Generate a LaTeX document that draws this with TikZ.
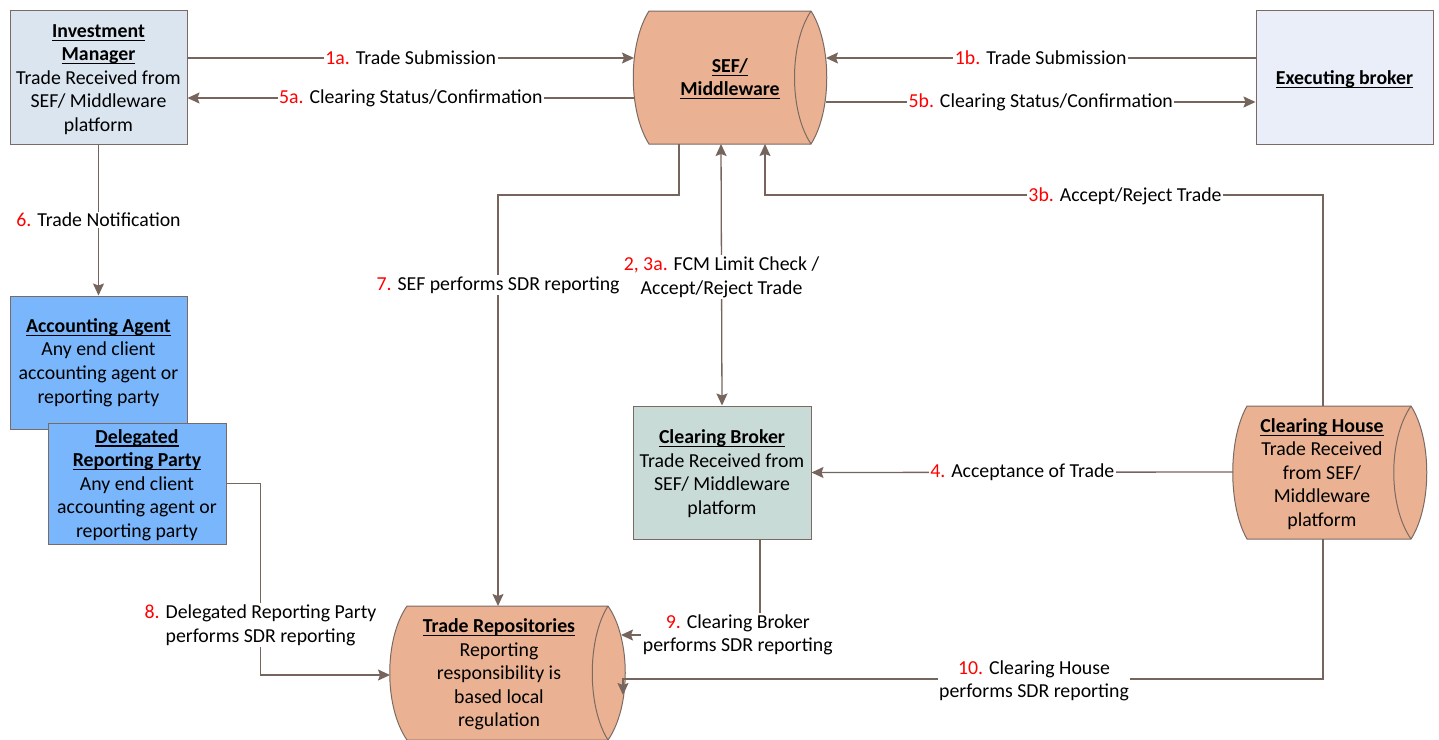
\documentclass[tikz,border=0pt]{standalone}
\usepackage{fontspec}
\setmainfont{Carlito}
\usetikzlibrary{arrows.meta}
\definecolor{edge}{HTML}{7A6A63}
\definecolor{conncol}{HTML}{76655D}
\definecolor{salmon}{HTML}{EAB292}
\definecolor{imfill}{HTML}{DBE5F0}
\definecolor{exfill}{HTML}{E9EEF8}
\definecolor{aafill}{HTML}{7AB6FB}
\definecolor{cbfill}{HTML}{C9DBD6}
\definecolor{numred}{HTML}{FF0000}
\newsavebox{\ttlbox}
\newcommand{\ttl}[1]{\sbox{\ttlbox}{\textbf{#1}}\rlap{\rule[-3.5pt]{\wd\ttlbox}{1.1pt}}\usebox{\ttlbox}}
\newcommand{\nr}[1]{\textcolor{numred}{#1}}
\begin{document}
\begin{tikzpicture}[x=1pt,y=-1pt,
  font=\fontsize{19.8}{23.6}\selectfont,
  box/.style={draw=edge, line width=1pt, align=center, inner sep=0pt},
  shp/.style={draw=edge, line width=1pt, fill=salmon},
  conn/.style={draw=conncol, line width=1.3pt, -{Stealth[length=12pt,width=11pt,inset=2pt]}},
  conn2/.style={draw=conncol, line width=1.3pt, {Stealth[length=12pt,width=11pt,inset=2pt]}-{Stealth[length=12pt,width=11pt,inset=2pt]}},
  lbl/.style={fill=white, inner sep=1.5pt, align=center, text=black}
]
\useasboundingbox (0,0) rectangle (1439,739);

% rectangular boxes
\node[box, fill=imfill, minimum width=177pt, minimum height=134pt] (im) at (98.5,77) {};
\node[align=center] (imt) at ([yshift=-2.5pt]im.center)
  {\ttl{Investment}\\\ttl{Manager}\\Trade Received from\\SEF/ Middleware\\platform};
\node[box, fill=exfill, minimum width=177pt, minimum height=134pt] (exb) at (1344.5,77) {};
\node[align=center] (exbt) at ([yshift=-2.5pt]exb.center) {\ttl{Executing broker}};
\node[box, fill=aafill, minimum width=177pt, minimum height=133pt] (aa) at (98.5,362.5)
  {\ttl{Accounting Agent}\\Any end client\\accounting agent or\\reporting party};
\node[box, fill=aafill, minimum width=178pt, minimum height=121pt] (drp) at (137,483.5) {};
\node[align=center] (drpt) at ([yshift=-1.5pt]drp.center)
  {\ttl{Delegated}\\\ttl{Reporting Party}\\Any end client\\accounting agent or\\reporting party};
\node[box, fill=cbfill, minimum width=178pt, minimum height=133pt] (cb) at (722,472.5) {};
\node[align=center] (cbt) at ([yshift=-1pt]cb.center)
  {\ttl{Clearing Broker}\\Trade Received from\\SEF/ Middleware\\platform};

% SEF / Middleware cylinder
\path[shp] (649,11) -- (811,11) .. controls (832,44) and (832,111) .. (811,144)
  -- (649,144) .. controls (628,111) and (628,44) .. (649,11) -- cycle;
\draw[edge, line width=1pt] (811,11) .. controls (789,44) and (789,111) .. (811,144);
\node[align=center] (sef) at (730,79) {\ttl{SEF/}\\\ttl{Middleware}};

% Clearing House cylinder
\path[shp] (1247,406) -- (1411,406) .. controls (1432,439) and (1432,506) .. (1411,539)
  -- (1247,539) .. controls (1228,506) and (1228,439) .. (1247,406) -- cycle;
\draw[edge, line width=1pt] (1411,406) .. controls (1388,439) and (1388,506) .. (1411,539);
\node[align=center] (ch) at (1322,474) {\ttl{Clearing House}\\Trade Received\\from SEF/\\Middleware\\platform};

% Trade Repositories cylinder
\path[shp] (407,606) -- (608,606) .. controls (631,639) and (631,707) .. (608,740)
  -- (407,740) .. controls (384,707) and (384,639) .. (407,606) -- cycle;
\draw[edge, line width=1pt] (608,606) .. controls (587,639) and (587,707) .. (608,740);
\node[align=center] (tr) at (499,674.5) {\ttl{Trade Repositories}\\Reporting\\responsibility is\\based local\\regulation};

% connection points
\coordinate (sefW1) at (634,58);
\coordinate (sefW2) at (634,98);
\coordinate (sefE1) at (826,58);
\coordinate (sefE2) at (826,102);
\coordinate (sefS7) at (679,144);
\coordinate (sefS2) at (721,144);
\coordinate (sefS3) at (765,144);
\coordinate (c3b) at (765,195);
\coordinate (chN) at (1323,406);
\coordinate (chW) at (1233,472);
\coordinate (chS) at (1323,539);
\coordinate (cbS) at (760,539);
\coordinate (trN) at (498,606);
\coordinate (trW) at (390,675);
\coordinate (trE9) at (621,635);
\coordinate (c10) at (623,679);
\coordinate (trE10) at (623,695);

% connectors
\draw[conn] (im.east |- sefW1) -- (sefW1) node[lbl, pos=0.5] {\nr{1a.} Trade Submission};
\draw[conn] (sefW2) -- (im.east |- sefW2) node[lbl, pos=0.5] {\nr{5a.} Clearing Status/Confirmation};
\draw[conn] (exb.west |- sefE1) -- (sefE1) node[lbl, pos=0.5] {\nr{1b.} Trade Submission};
\draw[conn] (sefE2) -- (exb.west |- sefE2) node[lbl, pos=0.5] {\nr{5b.} Clearing Status/Confirmation};
\draw[conn] (im.south) -- (aa.north) node[lbl, pos=0.5] {\nr{6.} Trade Notification};
\draw[conn] (sefS7) -- ++(0,51) -| (trN) node[lbl, pos=0.61] {\nr{7.} SEF performs SDR reporting};
\draw[conn2] (sefS2) -- (cb.north) node[lbl, pos=0.51] {\nr{2, 3a.} FCM Limit Check /\\Accept/Reject Trade};
\draw[conn] (chN) |- (c3b) -- (sefS3);
\node[lbl] (l3b) at (1125,196) {\nr{3b.} Accept/Reject Trade};
\draw[conn] (chW) -- (cb.east) node[lbl, pos=0.5] {\nr{4.} Acceptance of Trade};
\draw[conn] (drp.east) -- ++(34,0) |- (trW) node[lbl, pos=0.37] {\nr{8.} Delegated Reporting Party\\performs SDR reporting};
\draw[conn] (cbS) |- (trE9) node[lbl, pos=0.58] {\nr{9.} Clearing Broker\\performs SDR reporting};
\draw[conn] (chS) |- (c10) -- (trE10);
\node[lbl] (l10) at (1034,681) {\nr{10.} Clearing House\\performs SDR reporting};
\end{tikzpicture}
\end{document}
